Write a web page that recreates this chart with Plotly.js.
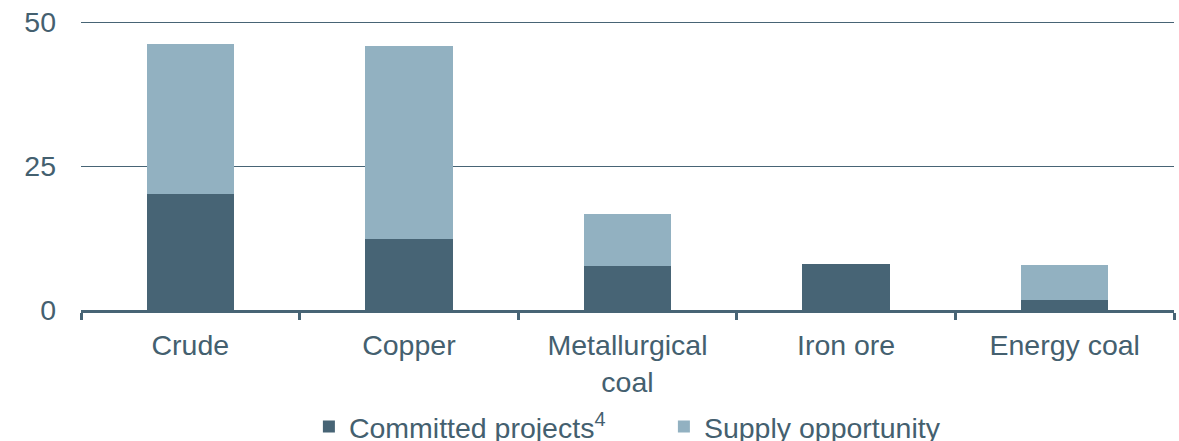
<!DOCTYPE html>
<html>
<head>
<meta charset="utf-8">
<script src="https://cdn.plot.ly/plotly-3.0.1.min.js"></script>
<style>
html,body{margin:0;padding:0;background:#fff;}
#chart{width:1179px;height:441px;}
</style>
</head>
<body>
<div id="chart"></div>
<script>
const categories = ["Crude", "Copper", "Metallurgical<br>coal", "Iron ore", "Energy coal"];
const committedProjects = [20.2, 12.4, 7.7, 8.0, 1.7];
const supplyOpportunity = [26.0, 33.5, 9.0, 0, 6.1];
const yTickValues = [0, 25, 50];
const yTickLabels = ["0", "25", "50"];
const seriesNames = ["Committed projects<sup>4</sup>", "Supply opportunity"];

const dark = "#476475";
const light = "#92b1c1";
const textColor = "#44606f";
const fontFamily = "Liberation Sans, Arial, sans-serif";
const fs = 28.5;

const traces = [
  {
    type: "bar",
    name: seriesNames[0],
    x: categories,
    y: committedProjects,
    marker: {color: dark, line: {width: 0}},
    hoverinfo: "skip"
  },
  {
    type: "bar",
    name: seriesNames[1],
    x: categories,
    y: supplyOpportunity,
    marker: {color: light, line: {width: 0}},
    hoverinfo: "skip"
  }
];

const layout = {
  width: 1179,
  height: 441,
  barmode: "stack",
  bargap: 0.6,
  margin: {l: 81, r: 5, t: 21, b: 131, pad: 0},
  paper_bgcolor: "#ffffff",
  plot_bgcolor: "#ffffff",
  font: {family: fontFamily, size: fs, color: textColor},
  showlegend: true,
  legend: {
    orientation: "h",
    xref: "container",
    yref: "container",
    x: 0.262,
    xanchor: "left",
    y: 0.032,
    yanchor: "middle",
    font: {family: fontFamily, size: fs, color: textColor},
    traceorder: "normal",
    itemwidth: 30,
    entrywidth: 310,
    bgcolor: "rgba(0,0,0,0)"
  },
  xaxis: {
    type: "category",
    showline: true,
    linecolor: dark,
    linewidth: 3,
    ticks: "outside",
    tickson: "boundaries",
    ticklen: 7,
    tickwidth: 3,
    tickcolor: dark,
    ticklabelstandoff: 8,
    showgrid: false,
    zeroline: false,
    tickfont: {family: fontFamily, size: fs, color: textColor},
    fixedrange: true
  },
  yaxis: {
    range: [0, 50.2],
    tickmode: "array",
    tickvals: yTickValues,
    ticktext: yTickLabels,
    showline: false,
    showgrid: true,
    gridcolor: dark,
    gridwidth: 1,
    zeroline: false,
    ticks: "",
    ticklabelstandoff: 24,
    tickfont: {family: fontFamily, size: fs, color: textColor},
    fixedrange: true
  }
};

Plotly.newPlot("chart", traces, layout, {displayModeBar: false, staticPlot: true});
</script>
</body>
</html>
